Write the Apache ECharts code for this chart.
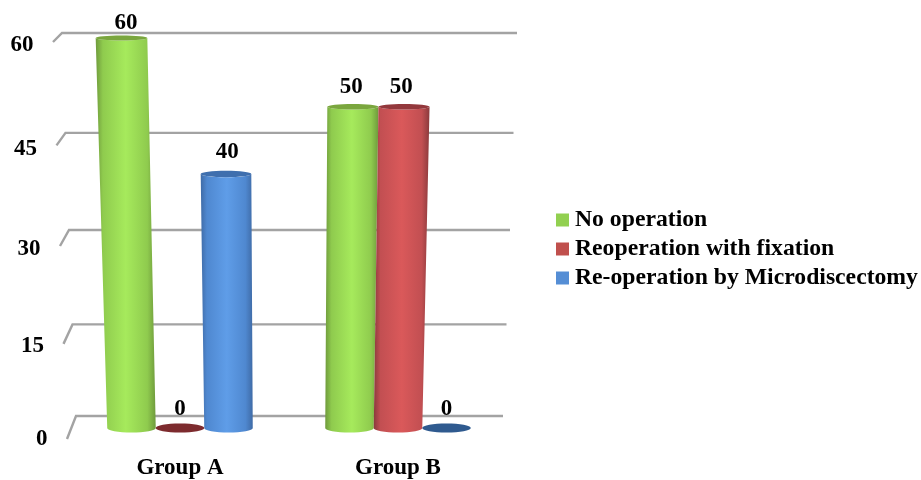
<!DOCTYPE html>
<html>
<head>
<meta charset="utf-8">
<style>html,body{margin:0;padding:0;background:#fff}#chart{width:921px;height:480px}</style>
<script src="https://cdn.jsdelivr.net/npm/echarts@6/dist/echarts.min.js"></script>
</head>
<body>
<div id="chart"></div>
<script>
const categories = ['Group A', 'Group B'];
const yTicks = [0, 15, 30, 45, 60];
const noOperation = [60, 50];
const reoperationFixation = [0, 50];
const reoperationMicro = [40, 0];

const FONT = '"Liberation Serif","Times New Roman",serif';
const GRID = { left: 71, width: 436, top: 33, height: 383 };
const VANISH_X = 286.5;

// Slight 3D view: the floor sits in front of the back wall and heights bow with the camera tilt.
function heightShare(api, value) {
  return (GRID.top + GRID.height - api.coord([0, value])[1]) / GRID.height;
}
const wallY = t => 416 - 383 * t + 22 * t * (1 - t);
const frontY = t => 428 - 390 * t + 27 * t * (1 - t);
const tickLabelY = t => 439 - 394 * t + 28 * t * (1 - t);
const valueLabelY = t => 409 - 386 * t;
const spread = (x, t, s) => VANISH_X + (x - VANISH_X) * (1 + s * t);

function cylinderSeries(name, values, slot, palette) {
  return {
    type: 'custom',
    name,
    itemStyle: { color: palette.legend },
    encode: { x: 0, y: 1 },
    data: values.map((v, i) => [i, v]),
    z: 3,
    renderItem(params, api) {
      const cat = api.value(0);
      const val = api.value(1);
      const t = heightShare(api, val);
      const band = api.size([1, 0])[0];
      const step = band * 0.2225;
      const xBase = api.coord([cat, 0])[0] + slot * step;
      const xTop = spread(xBase, t, 0.0645);
      const rBase = step / 2;
      const rTop = rBase * (1 + 0.0645 * t);
      const yBase = frontY(0);
      const yTop = frontY(t);
      const ryBase = 4.5;
      const ryTop = 4.5 - 2 * t;
      const text = {
        type: 'text',
        z2: 10,
        style: {
          text: String(val),
          x: spread(xBase, t, 0.035),
          y: valueLabelY(t),
          align: 'center',
          verticalAlign: 'middle',
          font: 'bold 23px ' + FONT,
          fill: '#000'
        }
      };
      if (val === 0) {
        return {
          type: 'group',
          children: [
            { type: 'ellipse', shape: { cx: xBase, cy: yBase, rx: rBase, ry: ryBase }, style: { fill: palette.flat } },
            text
          ]
        };
      }
      const d = [
        'M', xTop - rTop, yTop,
        'L', xBase - rBase, yBase,
        'A', rBase, ryBase, 0, 0, 0, xBase + rBase, yBase,
        'L', xTop + rTop, yTop,
        'A', rTop, ryTop, 0, 0, 1, xTop - rTop, yTop,
        'Z'
      ].join(' ');
      return {
        type: 'group',
        children: [
          {
            type: 'path',
            shape: { pathData: d },
            style: {
              fill: new echarts.graphic.LinearGradient(0, 0, 1, 0, [
                { offset: 0, color: palette.edge },
                { offset: 0.12, color: palette.mid },
                { offset: 0.5, color: palette.light },
                { offset: 0.86, color: palette.mid },
                { offset: 1, color: palette.edge }
              ])
            }
          },
          { type: 'ellipse', shape: { cx: xTop, cy: yTop, rx: rTop, ry: ryTop }, style: { fill: palette.cap } },
          text
        ]
      };
    }
  };
}

const option = {
  animation: false,
  backgroundColor: '#fff',
  grid: { left: GRID.left, width: GRID.width, top: GRID.top, height: GRID.height },
  xAxis: {
    type: 'category',
    data: categories,
    axisLine: { show: false },
    axisTick: { show: false },
    splitLine: { show: false },
    axisLabel: { margin: 41, fontFamily: FONT, fontWeight: 'bold', fontSize: 23, color: '#000' }
  },
  yAxis: { type: 'value', min: 0, max: 60, interval: 15, show: false },
  legend: {
    orient: 'vertical',
    left: 551,
    top: 203,
    itemWidth: 13,
    itemHeight: 13,
    itemGap: 5,
    icon: 'rect',
    data: ['No operation', 'Reoperation with fixation', 'Re-operation by Microdiscectomy'],
    selectedMode: false,
    textStyle: { fontFamily: FONT, fontWeight: 'bold', fontSize: 23.7, color: '#000', padding: [0, 0, 0, 1], lineHeight: 24 }
  },
  series: [
    // Back wall rules with the short diagonal stub at their left end.
    {
      type: 'custom',
      name: 'wall',
      silent: true,
      z: 1,
      data: yTicks.map(v => [0, v]),
      encode: { x: 0, y: 1 },
      renderItem(params, api) {
        const t = heightShare(api, api.value(1));
        const y = wallY(t);
        const left = 76 - 14 * t;
        const right = 503 + 14 * t;
        return {
          type: 'polyline',
          shape: { points: [[left - 9, y + 23 - 14 * t], [left, y], [right, y]] },
          style: { stroke: '#a3a3a3', lineWidth: 2.4, fill: null }
        };
      }
    },
    // Tick numbers drift left as they climb, following the wall stubs.
    {
      type: 'custom',
      name: 'ticks',
      silent: true,
      z: 2,
      data: yTicks.map(v => [0, v]),
      encode: { x: 0, y: 1 },
      renderItem(params, api) {
        const val = api.value(1);
        const t = heightShare(api, val);
        return {
          type: 'text',
          style: {
            text: String(val),
            x: 47.5 - 14 * t,
            y: tickLabelY(t),
            align: 'right',
            verticalAlign: 'middle',
            font: 'bold 23px ' + FONT,
            fill: '#000'
          }
        };
      }
    },
    cylinderSeries('No operation', noOperation, -1, {
      legend: '#92d050', edge: '#6f9a3c', mid: '#8fcb4e', light: '#a6ea5c', cap: '#7aa63e', flat: '#6f9a3c'
    }),
    cylinderSeries('Reoperation with fixation', reoperationFixation, 0, {
      legend: '#c0504d', edge: '#8a3a3c', mid: '#c24f52', light: '#da595a', cap: '#93383c', flat: '#7d2b2e'
    }),
    cylinderSeries('Re-operation by Microdiscectomy', reoperationMicro, 1, {
      legend: '#558ed5', edge: '#3f6ba6', mid: '#4f88d0', light: '#5f9de8', cap: '#3f6fae', flat: '#2f5a8f'
    })
  ]
};

const chart = echarts.init(document.getElementById('chart'), null, { renderer: 'canvas' });
chart.setOption(option);
</script>
</body>
</html>
